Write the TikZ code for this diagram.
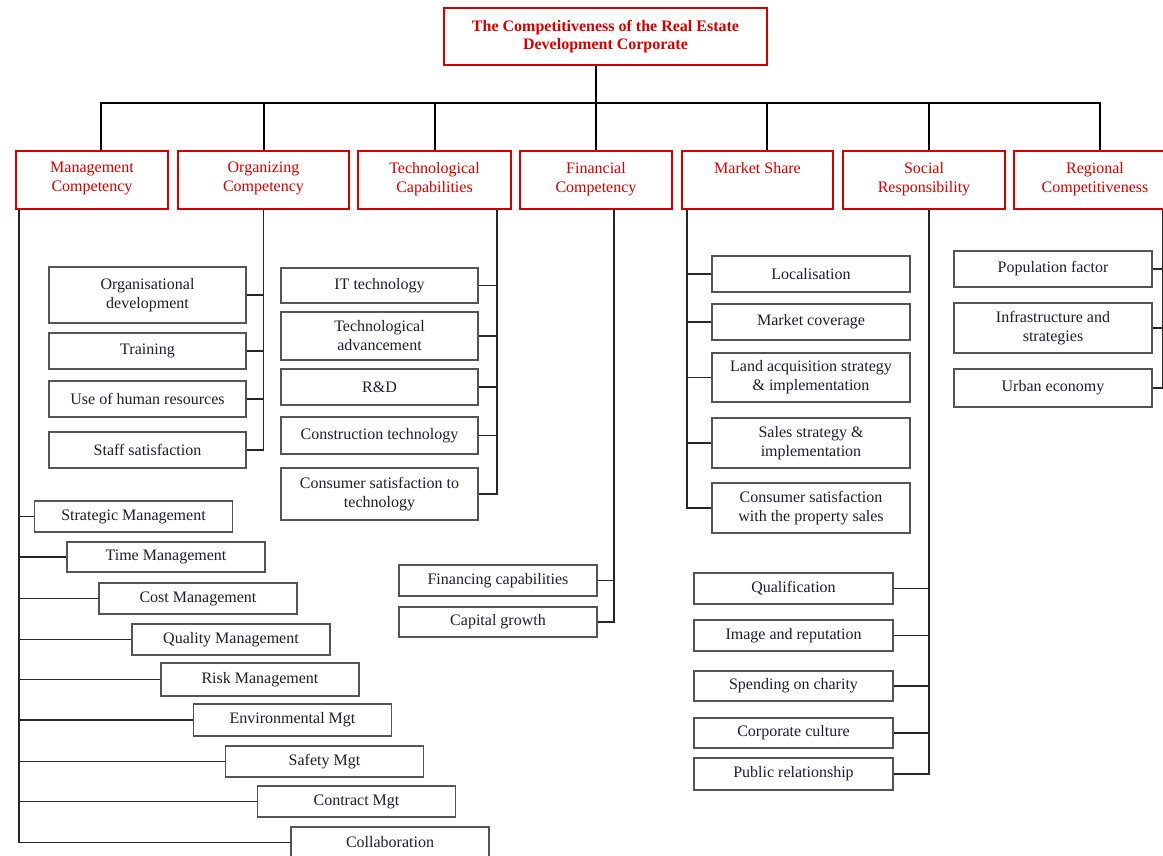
\documentclass[tikz,border=0pt]{standalone}
\usepackage{fontspec}
\setmainfont{Liberation Serif}
\definecolor{hdred}{RGB}{208,0,0}
\definecolor{boxgray}{RGB}{85,85,85}
\definecolor{txtc}{RGB}{30,30,40}
\newcommand{\hdtext}[1]{\parbox[c][36pt][t]{140pt}{\centering #1}}
\begin{document}
\begin{tikzpicture}[x=1pt,y=-1pt,
 every node/.style={font=\fontsize{16}{19}\selectfont},
 head/.style={draw=hdred, line width=2pt, text=hdred, fill=white, minimum height=58pt, inner sep=0pt, align=center},
 leaf/.style={draw=boxgray, line width=1.8pt, text=txtc, fill=white, inner sep=0pt, align=center, minimum width=198pt},
 conn/.style={draw=black, line width=2pt},
 sconn/.style={draw=black!85, line width=1.7pt}]
\useasboundingbox (0,0) rectangle (1163,856);
\clip (0,0) rectangle (1163,856);
\fill[white] (0,0) rectangle (1163,856);

% title
\node[head, minimum width=323pt, minimum height=57pt, font=\fontsize{16}{18.5}\selectfont\bfseries] (top) at (605.5,36.5) {The Competitiveness of the Real Estate\\Development Corporate};

% headers
\node[head, minimum width=152pt] (mgmt) at (92,180) {\hdtext{Management\\Competency}};
\node[head, minimum width=171pt] (org) at (263.5,180) {\hdtext{Organizing\\Competency}};
\node[head, minimum width=153pt] (tech) at (434.5,180) {\hdtext{Technological\\Capabilities}};
\node[head, minimum width=152pt] (fin) at (596,180) {\hdtext{Financial\\Competency}};
\node[head, minimum width=151pt] (ms) at (757.5,180) {\hdtext{Market Share}};
\node[head, minimum width=162pt] (soc) at (924,180) {\hdtext{Social\\Responsibility}};
\node[head, minimum width=162pt] (reg) at (1095,180) {\hdtext{Regional\\Competitiveness}};

% top connectors
\coordinate (bar) at (596,103);
\draw[conn] (top.south -| bar) -- (bar);
\draw[conn] (bar) -| ([xshift=9pt]mgmt.north);
\draw[conn] (bar) -| (org.north);
\draw[conn] (bar) -| (tech.north);
\draw[conn] (bar) -- (fin.north);
\draw[conn] (bar) -| ([xshift=9.5pt]ms.north);
\draw[conn] (bar) -| ([xshift=5pt]soc.north);
\draw[conn] (bar) -| ([xshift=5pt]reg.north);

% management children
\node[leaf, minimum height=31pt] (strat) at (133.5,516.5) {Strategic Management};
\node[leaf, minimum height=30pt] (time) at (166,557) {Time Management};
\node[leaf, minimum height=31pt] (cost) at (198,598.5) {Cost Management};
\node[leaf, minimum height=31pt] (qualm) at (231,639.5) {Quality Management};
\node[leaf, minimum height=33pt] (risk) at (260,679.5) {Risk Management};
\node[leaf, minimum height=32pt] (env) at (292.5,720) {Environmental Mgt};
\node[leaf, minimum height=31pt] (safe) at (324.5,761.5) {Safety Mgt};
\node[leaf, minimum height=31pt] (contr) at (356.5,801.5) {Contract Mgt};
\node[leaf, minimum height=31pt] (collab) at (390,842.5) {Collaboration};
\foreach \n in {strat,time,cost,qualm,risk,env,safe,contr,collab}
  \draw[sconn] ([xshift=4pt]mgmt.south west) |- (\n.west);

% organizing children
\node[leaf, minimum width=197pt, minimum height=56pt] (od) at (147.5,295) {Organisational\\development};
\node[leaf, minimum width=197pt, minimum height=36pt] (train) at (147.5,351) {Training};
\node[leaf, minimum width=197pt, minimum height=36pt] (hr) at (147.5,399) {Use of human resources};
\node[leaf, minimum width=197pt, minimum height=36pt] (staff) at (147.5,450) {Staff satisfaction};
\foreach \n in {od,train,hr,staff}
  \draw[sconn] (org.south) |- (\n.east);

% technological children
\node[leaf, minimum width=197pt, minimum height=35pt] (it) at (379.5,285.5) {IT technology};
\node[leaf, minimum width=197pt, minimum height=48pt] (adv) at (379.5,336) {Technological\\advancement};
\node[leaf, minimum width=197pt, minimum height=36pt] (rd) at (379.5,387) {R\&D};
\node[leaf, minimum width=197pt, minimum height=37pt] (cons) at (379.5,435.5) {Construction technology};
\node[leaf, minimum width=197pt, minimum height=52pt] (csat) at (379.5,494) {Consumer satisfaction to\\technology};
\foreach \n in {it,adv,rd,cons,csat}
  \draw[sconn] ([xshift=-15pt]tech.south east) |- (\n.east);

% financial children
\node[leaf, minimum height=31pt] (fc) at (498,580.5) {Financing capabilities};
\node[leaf, minimum height=30pt] (cg) at (498,622) {Capital growth};
\foreach \n in {fc,cg}
  \draw[sconn] ([xshift=18pt]fin.south) |- (\n.east);

% market share children
\node[leaf, minimum height=36pt] (loc) at (811,274) {Localisation};
\node[leaf, minimum height=36pt] (cov) at (811,322) {Market coverage};
\node[leaf, minimum height=49pt] (land) at (811,377.5) {Land acquisition strategy\\\& implementation};
\node[leaf, minimum height=50pt] (sales) at (811,443) {Sales strategy \&\\implementation};
\node[leaf, minimum height=50pt] (csp) at (811,508) {Consumer satisfaction\\with the property sales};
\foreach \n in {loc,cov,land,sales,csp}
  \draw[sconn] ([xshift=6pt]ms.south west) |- (\n.west);

% social children
\node[leaf, minimum width=199pt, minimum height=31pt] (qualif) at (793.5,588.5) {Qualification};
\node[leaf, minimum width=199pt, minimum height=31pt] (image) at (793.5,635.5) {Image and reputation};
\node[leaf, minimum width=199pt, minimum height=30pt] (spend) at (793.5,686) {Spending on charity};
\node[leaf, minimum width=199pt, minimum height=30pt] (corp) at (793.5,733) {Corporate culture};
\node[leaf, minimum width=199pt, minimum height=32pt] (pub) at (793.5,774) {Public relationship};
\foreach \n in {qualif,image,spend,corp,pub}
  \draw[sconn] ([xshift=5pt]soc.south) |- (\n.east);

% regional children
\node[leaf, minimum height=36pt] (pop) at (1053,269) {Population factor};
\node[leaf, minimum height=50pt] (infra) at (1053,328) {Infrastructure and\\strategies};
\node[leaf, minimum height=38pt] (urban) at (1053,388) {Urban economy};
\foreach \n in {pop,infra,urban}
  \draw[sconn] ([xshift=-14pt]reg.south east) |- (\n.east);
\end{tikzpicture}
\end{document}
